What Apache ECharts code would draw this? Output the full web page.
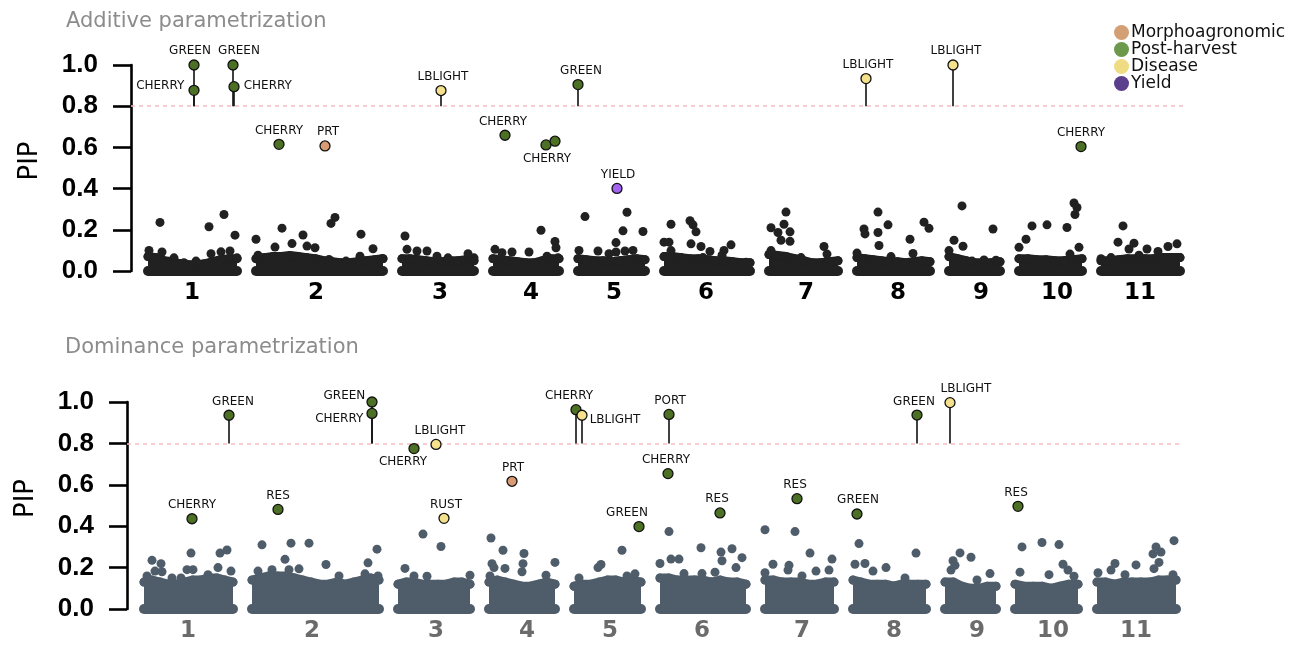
<!DOCTYPE html>
<html>
<head>
<meta charset="utf-8">
<script src="https://cdn.jsdelivr.net/npm/echarts@6/dist/echarts.min.js"></script>
<style>
  html, body { margin: 0; padding: 0; background: #fff; }
  #chart { width: 1296px; height: 646px; }
</style>
</head>
<body>
<div id="chart"></div>
<script>
// chromosomes (lengths in Mb)
const chrNames = ['1', '2', '3', '4', '5', '6', '7', '8', '9', '10', '11'];
const chrLen = [89, 127, 72, 66, 67, 86, 69, 73, 51, 63, 79];
const chrGap = 19;
const chrLabelAt = [44, 60, 38, 38, 36, 42, 37, 41, 32, 38, 39];

const groups = ['Morphoagronomic', 'Post-harvest', 'Disease', 'Yield'];

// upper edge of the dense cloud of low-PIP markers, per chromosome
const bandAdd = [
  [0.07, 0.065, 0.05, 0.045, 0.035, 0.03, 0.03, 0.035, 0.045, 0.055, 0.06, 0.06],
  [0.06, 0.065, 0.07, 0.07, 0.075, 0.07, 0.065, 0.06, 0.05, 0.045, 0.04, 0.04, 0.045, 0.05, 0.055, 0.06],
  [0.06, 0.06, 0.055, 0.05, 0.045, 0.045, 0.05, 0.05, 0.055, 0.05],
  [0.06, 0.055, 0.05, 0.045, 0.04, 0.04, 0.05, 0.06, 0.06],
  [0.06, 0.055, 0.05, 0.05, 0.045, 0.05, 0.055, 0.06, 0.055],
  [0.07, 0.07, 0.065, 0.06, 0.06, 0.055, 0.05, 0.05, 0.045, 0.04, 0.04],
  [0.08, 0.075, 0.07, 0.06, 0.05, 0.04, 0.04, 0.045, 0.05],
  [0.065, 0.06, 0.055, 0.05, 0.045, 0.045, 0.04, 0.045, 0.05, 0.045],
  [0.07, 0.06, 0.05, 0.04, 0.04, 0.04, 0.045],
  [0.06, 0.06, 0.055, 0.055, 0.05, 0.05, 0.055, 0.06],
  [0.05, 0.05, 0.055, 0.06, 0.06, 0.06, 0.06, 0.065, 0.065, 0.065]
];
const bandDom = [
  [0.13, 0.14, 0.13, 0.12, 0.12, 0.13, 0.14, 0.14, 0.15, 0.15, 0.14, 0.13],
  [0.14, 0.15, 0.16, 0.16, 0.16, 0.15, 0.14, 0.13, 0.12, 0.12, 0.13, 0.12, 0.13, 0.14, 0.15, 0.14],
  [0.12, 0.13, 0.13, 0.12, 0.12, 0.12, 0.12, 0.13, 0.13, 0.12],
  [0.13, 0.14, 0.13, 0.12, 0.11, 0.11, 0.12, 0.13, 0.12],
  [0.11, 0.12, 0.12, 0.13, 0.14, 0.14, 0.13, 0.14, 0.13],
  [0.15, 0.15, 0.14, 0.14, 0.14, 0.14, 0.13, 0.14, 0.13, 0.13, 0.12],
  [0.14, 0.14, 0.13, 0.13, 0.13, 0.12, 0.12, 0.13, 0.13],
  [0.14, 0.13, 0.12, 0.12, 0.12, 0.11, 0.12, 0.12, 0.12, 0.12],
  [0.13, 0.13, 0.11, 0.10, 0.10, 0.11, 0.11],
  [0.12, 0.11, 0.11, 0.11, 0.10, 0.11, 0.12, 0.12],
  [0.13, 0.13, 0.12, 0.13, 0.13, 0.13, 0.13, 0.14, 0.14, 0.14]
];

// scattered background markers: [chromosome, position, PIP]
const bgAdd = [
  [1,12,0.236],[1,61,0.215],[1,76,0.274],[1,87,0.174],[1,1,0.10],[1,14,0.092],[1,26,0.064],[1,36,0.04],[1,48,0.048],[1,63,0.084],[1,73,0.093],[1,82,0.097],[1,89,0.064],
  [2,0,0.154],[2,26,0.208],[2,47,0.175],[2,75,0.231],[2,79,0.26],[2,105,0.179],[2,19,0.116],[2,36,0.133],[2,59,0.113],[2,51,0.121],[2,117,0.108],[2,104,0.072],[2,126,0.06],[2,2,0.077],[2,73,0.056],[2,90,0.048],
  [3,3,0.17],[3,5,0.105],[3,15,0.097],[3,25,0.097],[3,35,0.072],[3,46,0.064],[3,66,0.084],[3,72,0.064],
  [4,48,0.198],[4,62,0.143],[4,63,0.113],[4,65,0.064],[4,54,0.072],[4,2,0.105],[4,19,0.092],[4,36,0.092],[4,9,0.089],
  [5,7,0.264],[5,49,0.285],[5,45,0.195],[5,65,0.192],[5,38,0.138],[5,38,0.092],[5,20,0.097],[5,1,0.10],[5,55,0.10],[5,31,0.084],[5,47,0.097],
  [6,7,0.227],[6,26,0.244],[6,29,0.224],[6,32,0.19],[6,0,0.14],[6,5,0.14],[6,27,0.132],[6,37,0.119],[6,46,0.095],[6,60,0.10],[6,67,0.127],[6,58,0.077],[6,82,0.043],[6,7,0.099],[6,39,0.065],
  [7,17,0.286],[7,15,0.227],[7,2,0.21],[7,9,0.187],[7,21,0.19],[7,12,0.149],[7,21,0.144],[7,55,0.119],[7,58,0.082],[7,2,0.099],[7,32,0.065],
  [8,21,0.286],[8,31,0.224],[8,7,0.204],[8,8,0.18],[8,21,0.187],[8,22,0.124],[8,67,0.237],[8,72,0.207],[8,53,0.154],[8,56,0.085],[8,0,0.087],[8,34,0.07],
  [9,13,0.316],[9,44,0.204],[9,5,0.149],[9,14,0.12],[9,0,0.099],[9,35,0.054],[9,47,0.052],[9,23,0.048],
  [10,55,0.33],[10,58,0.308],[10,56,0.274],[10,13,0.219],[10,28,0.224],[10,48,0.211],[10,7,0.154],[10,0,0.115],[10,60,0.115],[10,51,0.082],
  [11,22,0.219],[11,17,0.14],[11,33,0.135],[11,28,0.107],[11,46,0.107],[11,38,0.077],[11,57,0.095],[11,67,0.119],[11,76,0.132],[11,0,0.06],[11,10,0.065]
];
const bgDom = [
  [1,8,0.235],[1,17,0.219],[1,47,0.27],[1,76,0.27],[1,83,0.285],[1,11,0.183],[1,18,0.18],[1,43,0.19],[1,49,0.19],[1,28,0.15],[1,64,0.166],[1,74,0.2],[1,87,0.183],[1,3,0.16],[1,37,0.15],
  [2,10,0.31],[2,39,0.318],[2,57,0.318],[2,33,0.24],[2,74,0.215],[2,125,0.289],[2,116,0.223],[2,6,0.183],[2,20,0.19],[2,37,0.19],[2,47,0.194],[2,113,0.17],[2,126,0.16],[2,87,0.16],
  [3,25,0.362],[3,43,0.302],[3,7,0.196],[3,29,0.158],[3,72,0.163],[3,16,0.16],
  [4,2,0.343],[4,14,0.284],[4,35,0.268],[4,66,0.225],[4,34,0.219],[4,3,0.219],[4,5,0.2],[4,16,0.196],[4,33,0.18],[4,57,0.163],[4,1,0.16],
  [5,48,0.284],[5,24,0.2],[5,27,0.215],[5,61,0.17],[5,5,0.15],[5,53,0.16],
  [6,9,0.374],[6,41,0.296],[6,61,0.275],[6,72,0.291],[6,82,0.248],[6,62,0.233],[6,76,0.2],[6,11,0.241],[6,19,0.241],[6,0,0.22],[6,42,0.171],[6,55,0.178],[6,24,0.171],
  [7,0,0.383],[7,30,0.374],[7,45,0.27],[7,67,0.241],[7,8,0.216],[7,24,0.211],[7,23,0.188],[7,51,0.183],[7,64,0.188],[7,0,0.175],[7,37,0.16],
  [8,6,0.316],[8,63,0.27],[8,2,0.216],[8,12,0.22],[8,20,0.183],[8,33,0.2],[8,52,0.15],
  [9,15,0.271],[9,26,0.25],[9,8,0.233],[9,10,0.211],[9,6,0.188],[9,45,0.171],[9,32,0.14],
  [10,7,0.3],[10,27,0.321],[10,44,0.311],[10,48,0.216],[10,53,0.188],[10,5,0.178],[10,34,0.166],[10,59,0.158],
  [11,77,0.33],[11,59,0.3],[11,64,0.275],[11,56,0.266],[11,62,0.225],[11,57,0.195],[11,18,0.22],[11,39,0.213],[11,1,0.175],[11,14,0.188],[11,28,0.166],[11,76,0.166]
];

// labelled associations: [chromosome, position, PIP, trait, group]
const hitsAdd = [
  [1, 46, 1.0, 'GREEN', 'Post-harvest'],
  [1, 46, 0.877, 'CHERRY', 'Post-harvest'],
  [1, 85, 1.0, 'GREEN', 'Post-harvest'],
  [1, 86, 0.895, 'CHERRY', 'Post-harvest'],
  [2, 23, 0.615, 'CHERRY', 'Post-harvest'],
  [2, 69, 0.607, 'PRT', 'Morphoagronomic'],
  [3, 39, 0.876, 'LBLIGHT', 'Disease'],
  [4, 12, 0.659, 'CHERRY', 'Post-harvest'],
  [4, 53, 0.612, 'CHERRY', 'Post-harvest'],
  [4, 62, 0.630, '', 'Post-harvest'],
  [5, 0, 0.905, 'GREEN', 'Post-harvest'],
  [5, 39, 0.401, 'YIELD', 'Yield'],
  [8, 9, 0.934, 'LBLIGHT', 'Disease'],
  [9, 4, 1.0, 'LBLIGHT', 'Disease'],
  [10, 62, 0.604, 'CHERRY', 'Post-harvest']
];
const hitsDom = [
  [1, 48, 0.436, 'CHERRY', 'Post-harvest'],
  [1, 85, 0.936, 'GREEN', 'Post-harvest'],
  [2, 26, 0.481, 'RES', 'Post-harvest'],
  [2, 120, 1.0, 'GREEN', 'Post-harvest'],
  [2, 120, 0.945, 'CHERRY', 'Post-harvest'],
  [3, 16, 0.775, 'CHERRY', 'Post-harvest'],
  [3, 38, 0.795, 'LBLIGHT', 'Disease'],
  [3, 46, 0.438, 'RUST', 'Disease'],
  [4, 23, 0.617, 'PRT', 'Morphoagronomic'],
  [5, 2, 0.963, 'CHERRY', 'Post-harvest'],
  [5, 8, 0.936, 'LBLIGHT', 'Disease'],
  [5, 65, 0.398, 'GREEN', 'Post-harvest'],
  [6, 9, 0.94, 'PORT', 'Post-harvest'],
  [6, 8, 0.654, 'CHERRY', 'Post-harvest'],
  [6, 60, 0.464, 'RES', 'Post-harvest'],
  [7, 32, 0.533, 'RES', 'Post-harvest'],
  [8, 4, 0.459, 'GREEN', 'Post-harvest'],
  [8, 64, 0.937, 'GREEN', 'Post-harvest'],
  [9, 5, 0.997, 'LBLIGHT', 'Disease'],
  [10, 3, 0.496, 'RES', 'Post-harvest']
];
const threshold = 0.8;

// label placement for the hits (style only)
const placeAdd = [
  { p: 'top', dx: -4 }, { p: 'left', dy: -4 }, { p: 'top', dx: 6 }, { p: 'right', dy: -1 },
  { p: 'top' }, { p: 'top', dx: 3 }, { p: 'top', dx: 2 }, { p: 'top', dx: -2 },
  { p: 'bottom', dx: 1 }, { p: 'none' }, { p: 'top', dx: 3 }, { p: 'top', dx: 1 },
  { p: 'top', dx: 2 }, { p: 'top', dx: 3 }, { p: 'top' }
];
const placeDom = [
  { p: 'top' }, { p: 'top', dx: 4 }, { p: 'top' }, { p: 'left', dy: -6, d: 1 }, { p: 'left', dy: 5, d: 3 },
  { p: 'bottom', dx: -11 }, { p: 'top', dx: 4 }, { p: 'top', dx: 2 }, { p: 'top', dx: 1 },
  { p: 'top', dx: -7 }, { p: 'right', dy: 5, d: 2 }, { p: 'top', dx: -12 }, { p: 'top', dx: 1 },
  { p: 'top', dx: -2 }, { p: 'top', dx: -3 }, { p: 'top', dx: -2 }, { p: 'top', dx: 1 },
  { p: 'top', dx: -3 }, { p: 'top', dx: 16 }, { p: 'top', dx: -2 }
];

const pointColor = { 'Morphoagronomic': '#d99b73', 'Post-harvest': '#4d7124', 'Disease': '#f5e18c', 'Yield': '#a262f2' };
const legendColor = { 'Morphoagronomic': '#d3a075', 'Post-harvest': '#6c994c', 'Disease': '#efdc82', 'Yield': '#5b3e8c' };
const cloudColor = ['#212121', '#4f5d6a'];

const chrStart = [];
let acc = 0;
chrLen.forEach((l) => { chrStart.push(acc); acc += l + chrGap; });
const xPos = (chr, pos) => chrStart[chr - 1] + pos;

const chart = echarts.init(document.getElementById('chart'), null, { renderer: 'canvas' });

function panelSeries(k, band, bg, hits, place) {
  const col = cloudColor[k];
  const out = [];
  band.forEach((env, i) => {
    const n = env.length;
    out.push({
      type: 'line', xAxisIndex: k, yAxisIndex: k, silent: true, z: 1,
      data: env.map((v, j) => [chrStart[i] + j * chrLen[i] / (n - 1), v]),
      symbol: 'circle', symbolSize: 9, showSymbol: true,
      itemStyle: { color: col },
      lineStyle: { color: col, width: 9, cap: 'round', join: 'round' },
      areaStyle: { color: col, opacity: 1 }
    });
    out.push({
      type: 'line', xAxisIndex: k, yAxisIndex: k, silent: true, z: 1,
      data: [[chrStart[i], 0], [chrStart[i] + chrLen[i], 0]],
      symbol: 'none',
      lineStyle: { color: col, width: 10, cap: 'round' }
    });
  });
  out.push({
    type: 'scatter', xAxisIndex: k, yAxisIndex: k, silent: true, z: 2,
    data: bg.map(([c, p, v]) => [xPos(c, p), v]),
    symbolSize: 9,
    itemStyle: { color: col, opacity: 1 }
  });
  // threshold
  out.push({
    type: 'scatter', xAxisIndex: k, yAxisIndex: k, silent: true, z: 3,
    data: [[chrStart[0], threshold]], symbolSize: 0,
    markLine: {
      silent: true, symbol: 'none', label: { show: false },
      lineStyle: { color: '#f7bdbd', type: [4, 4], width: 1.5 },
      data: [{ yAxis: threshold }]
    }
  });
  // stems above the threshold
  const tall = hits.filter((h) => h[2] > threshold);
  out.push({
    type: 'scatter', xAxisIndex: k, yAxisIndex: k, silent: true, z: 4,
    data: tall.map((h) => [xPos(h[0], h[1]), h[2]]), symbolSize: 0,
    markLine: {
      silent: true, symbol: 'none', label: { show: false },
      lineStyle: { color: '#111', type: 'solid', width: 1.6 },
      data: tall.map((h) => [{ coord: [xPos(h[0], h[1]), threshold] }, { coord: [xPos(h[0], h[1]), h[2]] }])
    }
  });
  groups.forEach((g) => {
    const items = [];
    hits.forEach((h, idx) => {
      if (h[4] !== g) return;
      const pl = place[idx];
      const dist = pl.d !== undefined ? pl.d : (pl.p === 'top' || pl.p === 'bottom' ? 2 : 4);
      items.push({
        name: h[3],
        value: [xPos(h[0], h[1]), h[2]],
        label: pl.p === 'none' ? { show: false } : {
          show: true, position: pl.p, distance: dist, offset: [pl.dx || 0, pl.dy || 0]
        }
      });
    });
    if (!items.length) return;
    out.push({
      name: g, type: 'scatter', xAxisIndex: k, yAxisIndex: k, z: 6,
      data: items, symbolSize: 10,
      itemStyle: { color: pointColor[g], borderColor: '#111', borderWidth: 1.3, opacity: 1 },
      label: { formatter: '{b}', fontSize: 12, fontFamily: 'DejaVu Sans', color: '#111' }
    });
  });
  return out;
}

const yAxisBase = (k) => ({
  gridIndex: k, type: 'value', min: 0, max: 1, interval: 0.2,
  name: 'PIP', nameLocation: 'middle', nameGap: 88,
  nameTextStyle: { fontSize: 26, fontFamily: 'DejaVu Sans', color: '#000', padding: [0, 0, 0, 14] },
  axisLine: { show: true, onZero: false, lineStyle: { color: '#000', width: 2.6 } },
  axisTick: { show: true, length: 18, lineStyle: { color: '#000', width: 2.6 } },
  axisLabel: {
    fontSize: 26, fontWeight: 'bold', fontFamily: 'Liberation Sans', color: '#000', margin: 33,
    formatter: (v) => v.toFixed(1)
  },
  splitLine: { show: false }
});

const labelValues = chrLabelAt.map((p, i) => chrStart[i] + p);
const xAxisBase = (k, color) => ({
  gridIndex: k, type: 'value', min: -17, max: 1038,
  axisLine: { show: false, onZero: false }, axisTick: { show: false }, splitLine: { show: false },
  axisLabel: {
    customValues: labelValues,
    fontSize: 23, fontWeight: 'bold', fontFamily: 'DejaVu Sans', color: color, margin: 11,
    formatter: (v) => {
      const i = labelValues.findIndex((x) => Math.abs(x - v) < 0.01);
      return i >= 0 ? chrNames[i] : '';
    }
  }
});

const option = {
  animation: false,
  backgroundColor: '#fff',
  title: [
    { text: 'Additive parametrization', left: 61, top: 6,
      textStyle: { color: '#8c8c8c', fontSize: 21, fontWeight: 'normal', fontFamily: 'DejaVu Sans' } },
    { text: 'Dominance parametrization', left: 60, top: 332,
      textStyle: { color: '#8c8c8c', fontSize: 21, fontWeight: 'normal', fontFamily: 'DejaVu Sans' } }
  ],
  legend: {
    orient: 'vertical', left: 1109, top: 19, itemGap: 0,
    icon: 'circle', itemWidth: 15, itemHeight: 15, selectedMode: false,
    textStyle: { fontSize: 17, fontFamily: 'DejaVu Sans', color: '#111', lineHeight: 17, padding: [0, 0, 0, -3] },
    data: groups.map((g) => ({ name: g, itemStyle: { color: legendColor[g], borderWidth: 0 } }))
  },
  grid: [
    { left: 131, right: 110, top: 65, height: 206 },
    { left: 127, right: 114, top: 402, height: 207 }
  ],
  xAxis: [xAxisBase(0, '#000'), xAxisBase(1, '#6b6b6b')],
  yAxis: [yAxisBase(0), yAxisBase(1)],
  series: [
    ...panelSeries(0, bandAdd, bgAdd, hitsAdd, placeAdd),
    ...panelSeries(1, bandDom, bgDom, hitsDom, placeDom)
  ]
};

chart.setOption(option);
</script>
</body>
</html>
